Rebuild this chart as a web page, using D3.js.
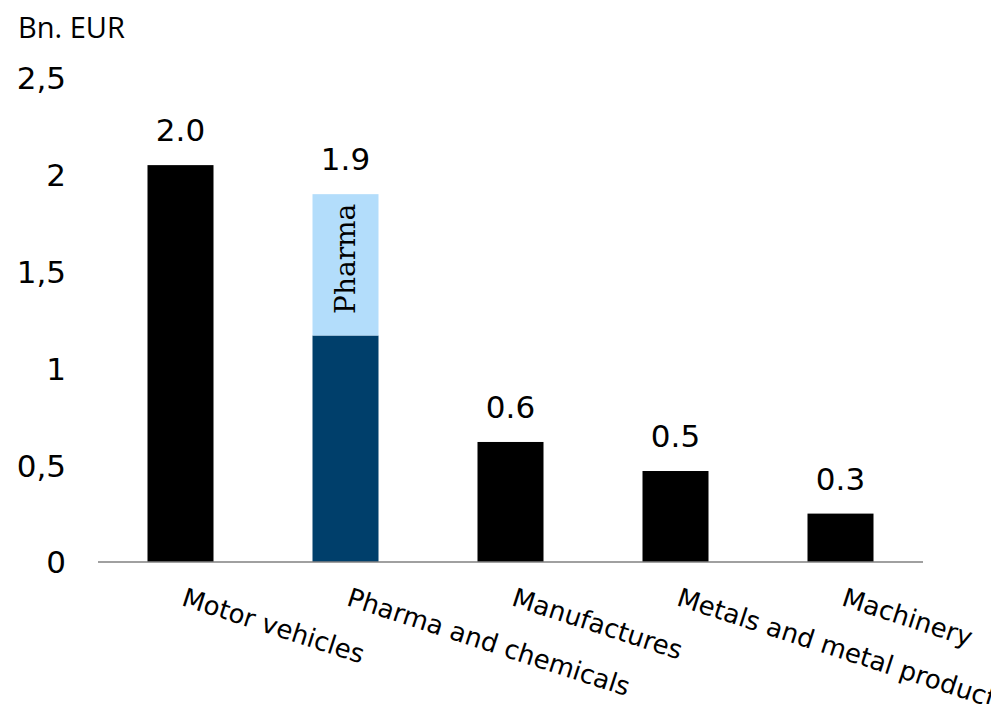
<!DOCTYPE html>
<html>
<head>
<meta charset="utf-8">
<script src="https://cdn.jsdelivr.net/npm/d3@7/dist/d3.min.js"></script>
<style>
  html, body { margin: 0; padding: 0; background: #ffffff; }
  svg { display: block; }
</style>
</head>
<body>
<script>
// ---- Data ----
const categories = ["Motor vehicles", "Pharma and chemicals", "Manufactures", "Metals and metal products", "Machinery"];
const baseValues = [2.05, 1.17, 0.62, 0.47, 0.25];      // dark part
const pharmaValues = [0, 0.73, 0, 0, 0];                 // light "Pharma" part
const valueLabels = ["2.0", "1.9", "0.6", "0.5", "0.3"];
const yTicks = [0, 0.5, 1, 1.5, 2, 2.5];
const yTickLabels = ["0", "0,5", "1", "1,5", "2", "2,5"];
const unitLabel = "Bn. EUR";
const segmentLabel = "Pharma";

const W = 991, H = 704;
const svg = d3.select("body").append("svg").attr("width", W).attr("height", H);

const x = d3.scaleBand().domain(categories).range([98, 923]).paddingInner(0.6).paddingOuter(0.3);
const y = d3.scaleLinear().domain([0, 2.5]).range([562, 78]);

const sans = "DejaVu Sans, Verdana, sans-serif";

// unit label
svg.append("text").attr("x", 18).attr("y", 38)
  .attr("font-family", "Open Sans, Noto Sans, sans-serif").attr("font-size", 29)
  .attr("fill", "#000").text(unitLabel);

// y tick labels
svg.append("g").selectAll("text").data(yTicks).join("text")
  .attr("x", 66).attr("y", d => y(d)).attr("dy", "0.37em")
  .attr("text-anchor", "end").attr("font-family", sans).attr("font-size", 31)
  .attr("fill", "#000").text((d, i) => yTickLabels[i]);

// bars
const colors = categories.map((c, i) => pharmaValues[i] > 0 ? "#003F6B" : "#000000");
svg.append("g").selectAll("rect").data(categories).join("rect")
  .attr("x", d => x(d)).attr("width", x.bandwidth())
  .attr("y", (d, i) => y(baseValues[i]))
  .attr("height", (d, i) => y(0) - y(baseValues[i]))
  .attr("fill", (d, i) => colors[i]);

svg.append("g").selectAll("rect").data(categories.filter((c, i) => pharmaValues[i] > 0)).join("rect")
  .attr("x", d => x(d)).attr("width", x.bandwidth())
  .attr("y", d => { const i = categories.indexOf(d); return y(baseValues[i] + pharmaValues[i]); })
  .attr("height", d => { const i = categories.indexOf(d); return y(baseValues[i]) - y(baseValues[i] + pharmaValues[i]); })
  .attr("fill", "#B3DDFB");

// segment label
categories.forEach((c, i) => {
  if (pharmaValues[i] > 0) {
    const cx = x(c) + x.bandwidth() / 2;
    const cy = (y(baseValues[i]) + y(baseValues[i] + pharmaValues[i])) / 2 - 6;
    svg.append("text")
      .attr("transform", `translate(${cx},${cy}) rotate(-90)`)
      .attr("text-anchor", "middle").attr("dy", "0.35em")
      .attr("font-family", "DejaVu Serif, Georgia, serif").attr("font-size", 28)
      .attr("fill", "#000").text(segmentLabel);
  }
});

// value labels
svg.append("g").selectAll("text").data(categories).join("text")
  .attr("x", d => x(d) + x.bandwidth() / 2)
  .attr("y", (d, i) => y(baseValues[i] + pharmaValues[i]) - 24)
  .attr("text-anchor", "middle").attr("font-family", sans).attr("font-size", 31)
  .attr("fill", "#000").text((d, i) => valueLabels[i]);

// x axis line
svg.append("line").attr("x1", x.range()[0]).attr("x2", x.range()[1])
  .attr("y1", y(0)).attr("y2", y(0))
  .attr("stroke", "#808080").attr("stroke-width", 1.5);

// category labels
svg.append("g").selectAll("text").data(categories).join("text")
  .attr("transform", d => `translate(${x(d) + x.bandwidth() / 2},${y(0) + 43}) rotate(18)`)
  .attr("text-anchor", "start").attr("font-family", sans).attr("font-size", 26)
  .attr("fill", "#000").text(d => d);
</script>
</body>
</html>
